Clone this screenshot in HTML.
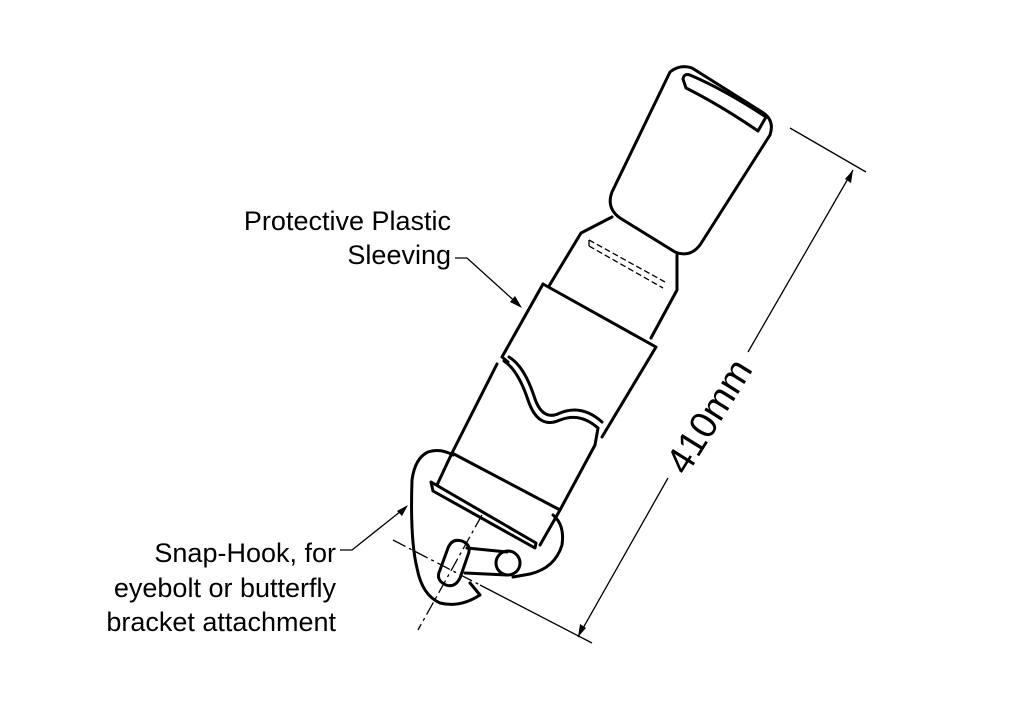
<!DOCTYPE html>
<html><head><style>html,body{margin:0;padding:0;background:#fff}svg{display:block}</style></head>
<body>
<svg width="1024" height="724" viewBox="0 0 1024 724" xmlns="http://www.w3.org/2000/svg">
<rect width="1024" height="724" fill="#fff"/>
<g fill="none" stroke="#000" stroke-width="3" stroke-linejoin="round" stroke-linecap="round">
<path d="M670,72 Q680,64 692,68 L762,112 Q775,120 770,135 L700,245 Q690,258 675,252 L620,218 Q606,208 612,192 Z"/>
<path d="M683,79 Q684,73 690,75 Q725,90 766,117 L758,131 Q720,105 686,88 Z"/>
<path d="M612,217 L581,233 L549,286"/>
<path d="M677,255 L677,290 L651,338"/>
<path d="M543,284 L656,347 L602,437"/>
<path d="M543,284 L502,357 L508,362"/>
<path d="M504,361 Q518,370 528,400 Q538,430 560,420 Q580,412 598,428"/>
<path d="M509,357 Q524,366 534,396 Q542,422 560,413 Q582,404 602,422"/>
<path d="M598,428 L595,445"/>
<path d="M497,364 L452,453 L437,485"/>
<path d="M595,445 L560,510 L540,545"/>
<path d="M452,453 L560,510"/>
<path d="M431,482 L536,543 L535,548 L433,491 Z"/>
<path d="M453,455 Q440,448 428,452 Q415,458 412,480 Q410,540 417,568 Q422,595 440,603 Q460,608 480,595 L470,583"/>
<path d="M553,515 Q565,525 562,545 Q555,568 530,574 L513,577"/>
<path d="M440,570 Q435,580 446,585 Q455,588 460,578 L468,555 Q472,545 462,541 Q452,538 448,548 Z"/>
<path d="M467,548 L507,552"/>
<path d="M465,573 L507,575"/>
<circle cx="508" cy="563" r="12"/>
</g>
<g fill="none" stroke="#000" stroke-width="1.3">
<path d="M589,240 L665,282 M589,246 L663,288" stroke-dasharray="6,3"/>
<path d="M589,240 L589,246"/>
<path d="M482,515 L418,630" stroke-dasharray="14,4,3,4"/>
<path d="M393,540 L480,585" stroke-dasharray="14,4,3,4"/>
<path d="M480,585 L592,643"/>
<path d="M790,128 L866,172"/>
<path d="M853,170 L748,352 M668,478 L578,637"/>
<path d="M455,258 L467,258 L520,306"/>
<path d="M340,550 L352,550 L406,507"/>
</g>
<g fill="#000">
<path d="M853,170 L851,183 L845,179 Z"/>
<path d="M578,637 L580,624 L586,628 Z"/>
<path d="M522,308 L510,302 L515,296 Z"/>
<path d="M408,505 L402,516 L397,511 Z"/>
</g>
<g font-family="Liberation Sans, Arial, sans-serif" font-size="27" fill="#000" text-anchor="end">
<text x="451" y="230">Protective Plastic</text>
<text x="451" y="264">Sleeving</text>
<text x="336" y="562">Snap-Hook, for</text>
<text x="336" y="597">eyebolt or butterfly</text>
<text x="336" y="631">bracket attachment</text>
</g>
<text x="0" y="0" font-family="Liberation Sans, Arial, sans-serif" font-size="38" text-anchor="middle" transform="translate(720,423) rotate(-58)">410mm</text>
</svg>
</body></html>
